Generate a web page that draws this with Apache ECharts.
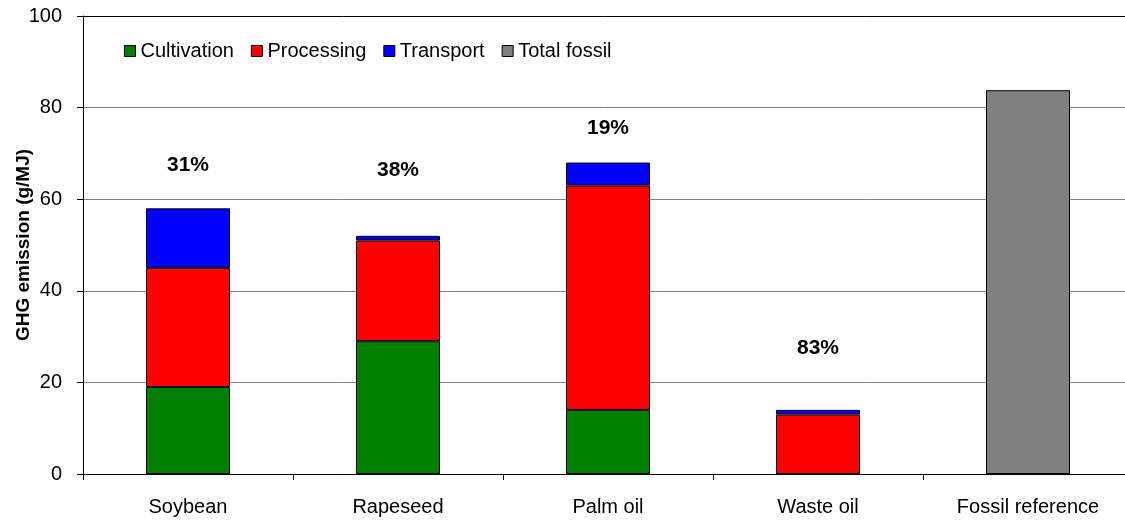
<!DOCTYPE html>
<html>
<head>
<meta charset="utf-8">
<script src="https://cdn.jsdelivr.net/npm/echarts@6/dist/echarts.min.js"></script>
<style>
  html, body { margin: 0; padding: 0; background: #fff; }
  #chart { width: 1125px; height: 522px; }
</style>
</head>
<body>
<div id="chart"></div>
<script>
// categories along the x axis
const categories = ['Soybean', 'Rapeseed', 'Palm oil', 'Waste oil', 'Fossil reference']

// emission parts (g/MJ), stacked
const cultivation = [19, 29, 14, 0, null]
const processing = [26, 22, 49, 13, null]
const transport = [13, 1, 5, 1, null]
const totalFossil = [null, null, null, null, 83.8]

// savings labels and the height they sit at
const savingLabels = ['31%', '38%', '19%', '83%', '']
const savingLabelY = [67.5, 66.4, 75.5, 27.5, null]

const yTicks = [0, 20, 40, 60, 80, 100]

const chart = echarts.init(document.getElementById('chart'))

const font = 'Liberation Sans, Arial, sans-serif'
const barBorder = { borderColor: '#000', borderWidth: 1 }

function barSeries(name, data, color) {
  return {
    name: name,
    type: 'bar',
    stack: 'ghg',
    barWidth: '40%',
    data: data,
    itemStyle: Object.assign({ color: color }, barBorder)
  }
}

const option = {
  animation: false,
  textStyle: { fontFamily: font },
  grid: {
    left: 83,
    top: 16,
    width: 1050,
    height: 458,
    outerBoundsMode: 'none',
    containLabel: false
  },
  legend: {
    left: 119,
    top: 36,
    itemWidth: 11,
    itemHeight: 11,
    itemGap: 17,
    icon: 'rect',
    textStyle: { fontFamily: font, fontSize: 20, color: '#000' },
    data: ['Cultivation', 'Processing', 'Transport', 'Total fossil'].map(n => ({
      name: n,
      itemStyle: { borderColor: '#000', borderWidth: 1 }
    }))
  },
  xAxis: {
    type: 'category',
    data: categories,
    axisLine: { lineStyle: { color: '#000', width: 1 } },
    axisTick: { show: true, length: 6, lineStyle: { color: '#000' } },
    axisLabel: { fontFamily: font, fontSize: 20, color: '#000', margin: 23 }
  },
  yAxis: {
    type: 'value',
    min: yTicks[0],
    max: yTicks[yTicks.length - 1],
    interval: 20,
    name: 'GHG emission (g/MJ)',
    nameLocation: 'middle',
    nameGap: 50,
    nameMoveOverlap: false,
    nameTextStyle: { fontFamily: font, fontSize: 19, fontWeight: 'bold', color: '#000' },
    axisLine: { show: true, lineStyle: { color: '#000', width: 1 } },
    axisTick: { show: true, length: 6, lineStyle: { color: '#000' } },
    axisLabel: { fontFamily: font, fontSize: 20, color: '#000', margin: 21 },
    splitLine: {
      show: true,
      lineStyle: { color: ['#000', '#808080', '#808080', '#808080', '#808080', '#000'], width: 1 }
    }
  },
  series: [
    barSeries('Cultivation', cultivation, '#008000'),
    barSeries('Processing', processing, '#ff0000'),
    barSeries('Transport', transport, '#0000ff'),
    barSeries('Total fossil', totalFossil, '#808080'),
    {
      name: 'savings',
      type: 'scatter',
      symbolSize: 0,
      silent: true,
      itemStyle: { opacity: 1 },
      data: savingLabelY.map((v, i) => [categories[i], v]),
      label: {
        show: true,
        position: 'inside',
        fontFamily: font,
        fontSize: 21,
        fontWeight: 'bold',
        color: '#000',
        formatter: p => savingLabels[p.dataIndex]
      }
    }
  ]
}

chart.setOption(option)
</script>
</body>
</html>
